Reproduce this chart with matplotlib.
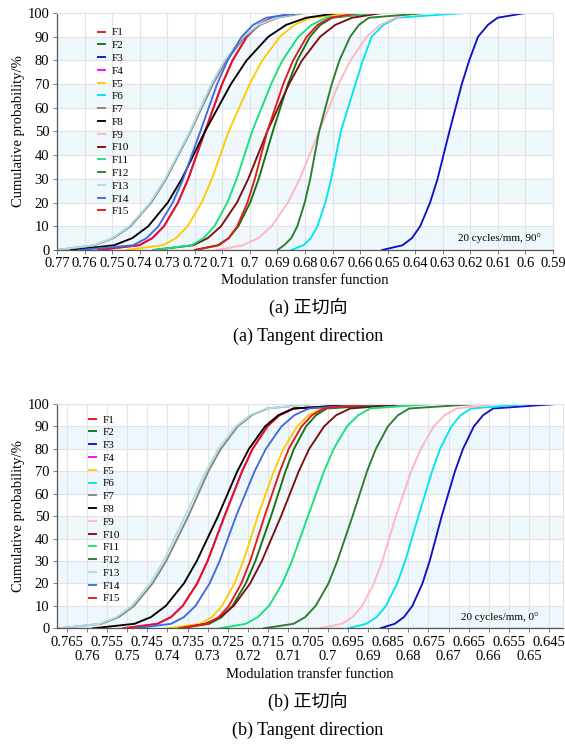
import matplotlib
matplotlib.use("Agg")
import matplotlib.pyplot as plt
from matplotlib.ticker import FuncFormatter, FixedLocator

plt.rcParams['font.family'] = ['Liberation Serif', 'Noto Sans CJK SC', 'DejaVu Sans']

# cumulative probability levels (%) at which MTF values were read
PROB = [0, 2, 5, 10, 20, 30, 50, 70, 80, 90, 95, 98, 100]

NAMES = ['F1', 'F2', 'F3', 'F4', 'F5', 'F6', 'F7', 'F8', 'F9', 'F10',
         'F11', 'F12', 'F13', 'F14', 'F15']
COLORS = ['#e31414', '#157015', '#1010c8', '#ff00ff', '#ffcc00', '#00e5ee',
          '#858585', '#000000', '#ffb6c1', '#7a0f0f', '#17e07a', '#2a7d2a',
          '#b0dde4', '#4169e1', '#e01a1a']

# (a) 20 cycles/mm, 90 deg
A_F1 = [0.755, 0.7402, 0.7354, 0.7312, 0.7261, 0.7224, 0.7163, 0.7101, 0.7063, 0.7011, 0.6968, 0.6919, 0.684]
A_F2 = [0.720, 0.7117, 0.7077, 0.7042, 0.6999, 0.6968, 0.6917, 0.6862, 0.6828, 0.6782, 0.6744, 0.6701, 0.655]
A_F3 = [0.652, 0.6446, 0.6412, 0.6382, 0.6346, 0.6319, 0.6276, 0.6231, 0.6204, 0.6172, 0.6136, 0.6101, 0.600]
A_F4 = [0.755, 0.7402, 0.7354, 0.7312, 0.7261, 0.7224, 0.7163, 0.7101, 0.7063, 0.7011, 0.6968, 0.6919, 0.684]
A_F5 = [0.745, 0.7316, 0.7268, 0.7226, 0.7175, 0.7138, 0.7077, 0.7001, 0.6955, 0.6891, 0.6838, 0.6779, 0.662]
A_F6 = [0.685, 0.6806, 0.6779, 0.6755, 0.6726, 0.6705, 0.6670, 0.6617, 0.6590, 0.6558, 0.6515, 0.6465, 0.622]
A_F7 = [0.770, 0.7564, 0.7495, 0.7433, 0.7358, 0.7304, 0.7215, 0.7134, 0.7085, 0.7018, 0.6962, 0.6899, 0.680]
A_F8 = [0.765, 0.7493, 0.7427, 0.7369, 0.7298, 0.7247, 0.7163, 0.7069, 0.7012, 0.6933, 0.6868, 0.6795, 0.668]
A_F9 = [0.712, 0.7025, 0.6970, 0.6921, 0.6862, 0.6819, 0.6749, 0.6678, 0.6635, 0.6576, 0.6527, 0.6472, 0.640]
A_F10 = [0.735, 0.7206, 0.7153, 0.7105, 0.7047, 0.7006, 0.6937, 0.6858, 0.6811, 0.6745, 0.6690, 0.6629, 0.652]
A_F11 = [0.735, 0.7212, 0.7168, 0.7129, 0.7082, 0.7048, 0.6992, 0.6923, 0.6882, 0.6824, 0.6776, 0.6723, 0.655]
A_F12 = [0.690, 0.6876, 0.6850, 0.6828, 0.6801, 0.6781, 0.6749, 0.6703, 0.6675, 0.6636, 0.6604, 0.6568, 0.636]
A_F13 = [0.770, 0.7568, 0.7500, 0.7438, 0.7362, 0.7308, 0.7218, 0.7140, 0.7092, 0.7025, 0.6970, 0.6905, 0.682]
A_F14 = [0.762, 0.7424, 0.7375, 0.7332, 0.7280, 0.7242, 0.7180, 0.7119, 0.7081, 0.7030, 0.6988, 0.6940, 0.682]
A_F15 = [0.720, 0.7112, 0.7077, 0.7046, 0.7009, 0.6982, 0.6937, 0.6879, 0.6843, 0.6794, 0.6754, 0.6708, 0.660]

# (b) 20 cycles/mm, 0 deg
B_F1 = [0.751, 0.7425, 0.7391, 0.7362, 0.7326, 0.7300, 0.7258, 0.7214, 0.7188, 0.7151, 0.7121, 0.7086, 0.690]
B_F2 = [0.737, 0.7296, 0.7265, 0.7238, 0.7205, 0.7181, 0.7142, 0.7106, 0.7085, 0.7055, 0.7030, 0.7003, 0.682]
B_F3 = [0.687, 0.6834, 0.6811, 0.6790, 0.6765, 0.6747, 0.6717, 0.6684, 0.6664, 0.6637, 0.6614, 0.6589, 0.643]
B_F4 = [0.751, 0.7425, 0.7391, 0.7362, 0.7326, 0.7300, 0.7258, 0.7214, 0.7188, 0.7151, 0.7121, 0.7086, 0.690]
B_F5 = [0.740, 0.7318, 0.7289, 0.7264, 0.7233, 0.7211, 0.7175, 0.7135, 0.7111, 0.7077, 0.7049, 0.7018, 0.692]
B_F6 = [0.695, 0.6905, 0.6879, 0.6856, 0.6828, 0.6808, 0.6775, 0.6741, 0.6721, 0.6693, 0.6670, 0.6644, 0.650]
B_F7 = [0.767, 0.7564, 0.7521, 0.7483, 0.7437, 0.7403, 0.7348, 0.7298, 0.7267, 0.7225, 0.7190, 0.7151, 0.704]
B_F8 = [0.7585, 0.7482, 0.7441, 0.7404, 0.7359, 0.7327, 0.7274, 0.7226, 0.7197, 0.7157, 0.7124, 0.7086, 0.690]
B_F9 = [0.702, 0.6966, 0.6939, 0.6915, 0.6886, 0.6865, 0.6831, 0.6793, 0.6769, 0.6737, 0.6710, 0.6680, 0.658]
B_F10 = [0.737, 0.7306, 0.7268, 0.7235, 0.7194, 0.7165, 0.7117, 0.7073, 0.7047, 0.7010, 0.6980, 0.6945, 0.680]
B_F11 = [0.727, 0.7205, 0.7175, 0.7147, 0.7114, 0.7090, 0.7050, 0.7010, 0.6986, 0.6953, 0.6925, 0.6895, 0.674]
B_F12 = [0.716, 0.7086, 0.7057, 0.7031, 0.6999, 0.6977, 0.6939, 0.6903, 0.6881, 0.6851, 0.6826, 0.6798, 0.663]
B_F13 = [0.767, 0.7569, 0.7527, 0.7489, 0.7443, 0.7410, 0.7356, 0.7304, 0.7273, 0.7230, 0.7194, 0.7154, 0.704]
B_F14 = [0.748, 0.7391, 0.7359, 0.7330, 0.7295, 0.7270, 0.7229, 0.7183, 0.7155, 0.7116, 0.7084, 0.7048, 0.688]
B_F15 = [0.737, 0.7301, 0.7272, 0.7247, 0.7216, 0.7194, 0.7158, 0.7120, 0.7098, 0.7066, 0.7040, 0.7011, 0.690]

A_SERIES = [A_F1, A_F2, A_F3, A_F4, A_F5, A_F6, A_F7, A_F8, A_F9, A_F10, A_F11, A_F12, A_F13, A_F14, A_F15]
B_SERIES = [B_F1, B_F2, B_F3, B_F4, B_F5, B_F6, B_F7, B_F8, B_F9, B_F10, B_F11, B_F12, B_F13, B_F14, B_F15]

A_TICKS = [0.77, 0.76, 0.75, 0.74, 0.73, 0.72, 0.71, 0.70, 0.69, 0.68,
           0.67, 0.66, 0.65, 0.64, 0.63, 0.62, 0.61, 0.60, 0.59]
B_TICKS_ROW1 = [0.765, 0.755, 0.745, 0.735, 0.725, 0.715, 0.705, 0.695,
                0.685, 0.675, 0.665, 0.655, 0.645]
B_TICKS_ROW2 = [0.76, 0.75, 0.74, 0.73, 0.72, 0.71, 0.70, 0.69, 0.68,
                0.67, 0.66, 0.65]
Y_TICKS = [0, 10, 20, 30, 40, 50, 60, 70, 80, 90, 100]

GRID = '#dfe4ea'
BAND = '#eef7fb'
FS = 10.5


def fmt(v, pos=None):
    return ('%.3f' % v).rstrip('0').rstrip('.')


def style_axes(ax):
    for lo in range(0, 100, 20):
        ax.axhspan(lo, lo + 10, color=BAND, zorder=0, lw=0)
    ax.set_ylim(0, 100)
    ax.set_yticks(Y_TICKS)
    ax.grid(True, which='both', color=GRID, lw=0.8, zorder=0.5)
    ax.set_axisbelow(True)
    for s in ['top', 'right']:
        ax.spines[s].set_color(GRID)
    for s in ['left', 'bottom']:
        ax.spines[s].set_color('#555555')
        ax.spines[s].set_linewidth(0.9)
    ax.tick_params(axis='both', which='both', labelsize=FS, length=3,
                   width=0.6, color='#666666', pad=1.5)
    ax.tick_params(axis='y', pad=2.5)
    ax.tick_params(axis='x', which='major', pad=2.2)
    ax.set_ylabel('Cumulative probability/%', fontsize=FS, labelpad=1.5)


def draw(ax, series):
    for i, (name, col, xs) in enumerate(zip(NAMES, COLORS, series)):
        z = 1.5 if name == 'F4' else 2 + i * 0.01
        ax.plot(xs, PROB, color=col, lw=1.35, label=name, zorder=z)


fig = plt.figure(figsize=(5.65, 7.44), dpi=100)

# ---- (a)
ax1 = fig.add_axes([57 / 565, 1 - 250 / 744, 496 / 565, 237 / 744])
style_axes(ax1)
draw(ax1, A_SERIES)
ax1.set_xlim(0.77, 0.59)
ax1.set_xticks(A_TICKS)
ax1.xaxis.set_major_formatter(FuncFormatter(fmt))
ax1.set_xlabel('Modulation transfer function', fontsize=FS, labelpad=3)
leg1 = ax1.legend(loc='upper left', bbox_to_anchor=(0.083, 0.938), frameon=False,
                  fontsize=8, handlelength=0.6, handletextpad=0.6,
                  labelspacing=0.27, borderpad=0, borderaxespad=0)
ax1.text(0.893, 0.05, '20 cycles/mm, 90°', transform=ax1.transAxes,
         fontsize=8, ha='center', va='center')

# ---- (b)
ax2 = fig.add_axes([57 / 565, 1 - 628.3 / 744, 506 / 565, 224.3 / 744])
style_axes(ax2)
draw(ax2, B_SERIES)
ax2.set_xlim(0.7675, 0.6415)
ax2.xaxis.set_major_locator(FixedLocator(B_TICKS_ROW1))
ax2.xaxis.set_minor_locator(FixedLocator(B_TICKS_ROW2))
ax2.xaxis.set_major_formatter(FuncFormatter(fmt))
ax2.xaxis.set_minor_formatter(FuncFormatter(fmt))
ax2.tick_params(axis='x', which='minor', pad=12.5)
ax2.set_xlabel('Modulation transfer function', fontsize=FS, labelpad=4)
leg2 = ax2.legend(loc='upper left', bbox_to_anchor=(0.063, 0.952), frameon=False,
                  fontsize=8, handlelength=0.6, handletextpad=0.6,
                  labelspacing=0.27, borderpad=0, borderaxespad=0)
ax2.text(0.875, 0.05, '20 cycles/mm, 0°', transform=ax2.transAxes,
         fontsize=8, ha='center', va='center')

# ---- captions
fig.text(0.545, 1 - 307 / 744, '(a) 正切向', fontsize=13, ha='center', va='center')
fig.text(0.545, 1 - 336 / 744, '(a) Tangent direction', fontsize=13, ha='center', va='center')
fig.text(0.545, 1 - 701 / 744, '(b) 正切向', fontsize=13, ha='center', va='center')
fig.text(0.545, 1 - 730 / 744, '(b) Tangent direction', fontsize=13, ha='center', va='center')

fig.savefig('out.png', dpi=100)
